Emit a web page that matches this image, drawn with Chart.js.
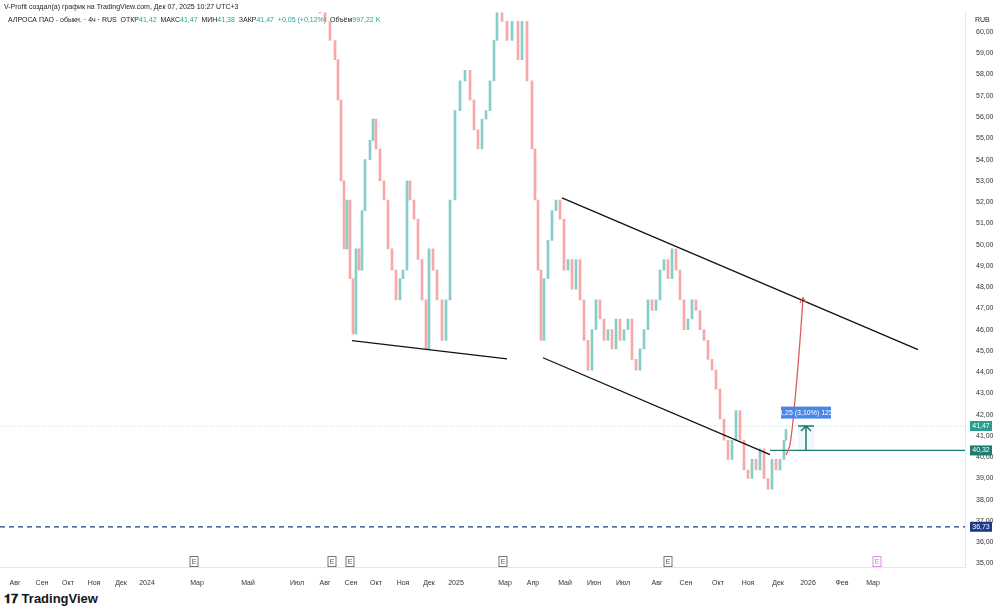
<!DOCTYPE html>
<html><head><meta charset="utf-8">
<script src="https://cdn.jsdelivr.net/npm/chart.js@4.4.1/dist/chart.umd.min.js"></script>
<style>
body{margin:0;width:1000px;height:613px;background:#fff;font-family:"Liberation Sans",Arial,sans-serif;position:relative;overflow:hidden}
#c{position:absolute;left:0;top:0}
.t{position:absolute;font-size:7px;color:#222;white-space:nowrap}
</style></head><body>
<canvas id="c" width="1000" height="590"></canvas>
<div class="t" style="left:4px;top:3px">V-Profit создал(а) график на TradingView.com, Дек 07, 2025 10:27 UTC+3</div>
<div class="t" style="left:8px;top:16px">АЛРОСА ПАО - обыкн. · 4ч · RUS&nbsp; ОТКР<span style="color:#26a69a">41,42</span>&nbsp; МАКС<span style="color:#26a69a">41,47</span>&nbsp; МИН<span style="color:#26a69a">41,38</span>&nbsp; ЗАКР<span style="color:#26a69a">41,47</span>&nbsp; <span style="color:#26a69a">+0,05 (+0,12%)</span>&nbsp; Объём<span style="color:#26a69a">997,22 K</span></div>
<div class="t" style="left:975px;top:16px">RUB</div>
<div style="position:absolute;left:4px;top:591px;font-size:13px;font-weight:bold;color:#131722;font-family:'Liberation Sans'">𝟏𝟕 TradingView</div>
<script>
const closeX=[320,325,330,335,338,341,344,347,350,353,356,359,362,365,370,373,376,380,384,388,392,396,400,403,407,410,414,418,422,426,429,433,437,442,446,450,455,460,465,470,474,478,482,486,490,494,497,502,507,512,518,522,527,532,535,538,541,544,548,552,556,560,564,568,572,576,580,584,588,592,596,600,604,608,612,616,620,624,628,632,636,640,644,648,652,656,660,664,668,672,676,680,684,688,692,696,700,704,708,712,716,720,724,728,732,736,740,744,748,752,756,760,764,768,772,776,780,784,786];
const closeP=[60.9,60.5,59.6,58.7,56.8,53.0,49.8,52.1,48.4,45.8,49.8,48.8,51.6,54.0,54.9,55.9,54.5,53.0,52.1,49.8,48.8,47.4,48.4,48.8,53.0,52.1,51.2,49.3,47.4,45.1,49.8,48.8,47.4,45.5,47.4,52.1,56.3,57.7,58.2,56.8,55.4,54.5,55.9,56.3,57.7,59.6,60.9,60.5,59.6,60.5,58.7,60.5,57.7,54.5,52.1,48.8,45.5,48.4,50.2,51.6,52.1,51.2,48.8,49.3,47.9,49.3,47.4,45.5,44.1,46.0,47.4,46.5,45.5,46.0,45.1,46.5,45.5,46.0,46.5,44.6,44.1,45.1,46.0,47.4,46.9,47.4,48.8,49.3,48.4,49.8,48.8,47.4,46.0,46.5,47.4,46.9,46.0,45.5,44.6,44.1,43.2,41.8,40.8,39.9,40.8,42.2,40.8,39.4,39.0,39.9,39.4,40.4,39.0,38.5,39.9,39.4,39.9,40.8,41.3];
const yTicks=[35,36,37,38,39,40,41,42,43,44,45,46,47,48,49,50,51,52,53,54,55,56,57,58,59,60];
const monthPos=[15,42,68,94,121,147,197,248,297,325,351,376,403,429,456,505,533,565,594,623,657,686,718,748,778,808,842,873];
const monthLbl=["Авг","Сен","Окт","Ноя","Дек","2024","Мар","Май","Июл","Авг","Сен","Окт","Ноя","Дек","2025","Мар","Апр","Май","Июн","Июл","Авг","Сен","Окт","Ноя","Дек","2026","Фев","Мар"];
const earnX=[194,332,350,503,668,877];
const lineBottomLeft=[[352,45.48],[507,44.63]];
const channelTop=[[562,52.2],[918,45.06]];
const channelBottom=[[543,44.68],[770,40.12]];
const projection=[[786,40.1],[790,40.6],[795,42.7],[800,45.5],[803,47.5]];
const levelGreen=40.32, levelLast=41.47, levelDash=36.73;

const candles=closeX.map((x,i)=>({x:x,y:[i?closeP[i-1]:closeP[0]+0.3,closeP[i]]}));
const up='rgba(38,166,154,0.55)',dn='rgba(239,83,80,0.5)';
const pts=a=>a.map(p=>({x:p[0],y:p[1]}));
const ovl={id:'ovl',afterDraw(ch){
 const c=ch.ctx,xs=ch.scales.x,ys=ch.scales.y,a=ch.chartArea;
 c.save();
 const mx=xs.getPixelForValue(806),y1=ys.getPixelForValue(levelGreen),y2=ys.getPixelForValue(levelLast);
 c.fillStyle='rgba(41,98,255,0.06)';c.fillRect(mx-8,y2,16,y1-y2);
 c.strokeStyle='#1e7d6e';c.lineWidth=1.5;
 c.beginPath();c.moveTo(mx-8,y2);c.lineTo(mx+8,y2);c.moveTo(mx,y1);c.lineTo(mx,y2);c.moveTo(mx-5,y2+5);c.lineTo(mx,y2);c.lineTo(mx+5,y2+5);c.stroke();
 const by=ys.getPixelForValue(42.1);
 c.fillStyle='#4a86e8';c.fillRect(mx-25,by-6,50,12);
 c.fillStyle='#fff';c.font='7px "Liberation Sans"';c.textAlign='center';c.textBaseline='middle';
 c.fillText('1,25 (3,10%) 125',mx,by);
 const ax=xs.getPixelForValue(803),ay=ys.getPixelForValue(47.5);
 c.strokeStyle='#e05a5a';c.lineWidth=1.3;c.beginPath();c.moveTo(ax-3,ay+5);c.lineTo(ax,ay);c.lineTo(ax+3,ay+5);c.stroke();
 const tag=(v,bg,t)=>{const y=ys.getPixelForValue(v);c.fillStyle=bg;c.fillRect(a.right+5,y-5,22,10);c.fillStyle='#fff';c.textAlign='center';c.fillText(t,a.right+16,y);};
 tag(levelLast,'#2a9d8f','41,47');tag(levelGreen,'#1e7d6e','40,32');tag(levelDash,'#1a3a8a','36,73');
 earnX.forEach((x,i)=>{const px=xs.getPixelForValue(x),py=a.bottom-6;c.strokeStyle=i==5?'#d36ee0':'#555';c.lineWidth=0.8;c.fillStyle='#fff';c.fillRect(px-4,py-5,8,10);c.strokeRect(px-4,py-5,8,10);c.fillStyle=i==5?'#d36ee0':'#555';c.fillText('E',px,py);});
 c.restore();
}};
new Chart(document.getElementById('c'),{
 data:{datasets:[
  {type:'bar',data:candles,barThickness:2,backgroundColor:ctx=>{const v=ctx.raw;return v&&v.y[1]>=v.y[0]?up:dn;},order:5},
  {type:'line',data:pts(lineBottomLeft),borderColor:'#111',borderWidth:1.3,pointRadius:0},
  {type:'line',data:pts(channelTop),borderColor:'#111',borderWidth:1.3,pointRadius:0},
  {type:'line',data:pts(channelBottom),borderColor:'#111',borderWidth:1.3,pointRadius:0},
  {type:'line',data:pts(projection),borderColor:'#e05a5a',borderWidth:1.3,pointRadius:0,tension:0.4},
  {type:'line',data:[{x:770,y:levelGreen},{x:965,y:levelGreen}],borderColor:'#1e7d6e',borderWidth:1.3,pointRadius:0},
  {type:'line',data:[{x:0,y:levelLast},{x:965,y:levelLast}],borderColor:'rgba(42,157,143,0.5)',borderWidth:0.7,borderDash:[1,2],pointRadius:0},
  {type:'line',data:[{x:0,y:levelDash},{x:965,y:levelDash}],borderColor:'#1a3a8a',borderWidth:1.3,borderDash:[5,4],pointRadius:0}
 ]},
 options:{responsive:false,animation:false,layout:{padding:{left:0,right:0,top:12,bottom:0}},
  plugins:{legend:{display:false},tooltip:{enabled:false}},
  scales:{
   x:{type:'linear',offset:false,min:0,max:965,grid:{display:false,offset:false},border:{color:'#e6e6e6'},
     afterBuildTicks:s=>{s.ticks=monthPos.map(v=>({value:v}));},
     ticks:{autoSkip:false,maxRotation:0,font:{size:7},color:'#333',callback:(v)=>monthLbl[monthPos.indexOf(v)]||''}},
   y:{position:'right',min:34.81,max:60.94,grid:{display:false},border:{color:'#e6e6e6'},
     afterFit:s=>{s.width=35;},
     afterBuildTicks:s=>{s.ticks=yTicks.map(v=>({value:v}));},
     ticks:{font:{size:7},color:'#333',callback:v=>v.toFixed(2).replace('.',',')}}
  }},
 plugins:[ovl]
});
</script></body></html>
